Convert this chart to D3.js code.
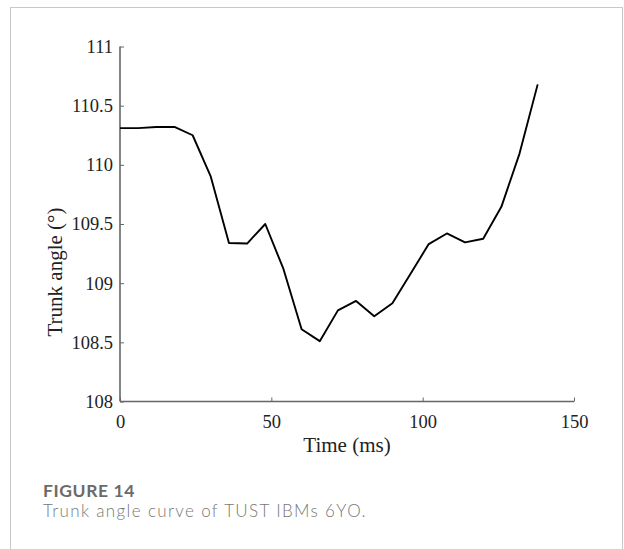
<!DOCTYPE html>
<html>
<head>
  <script src="https://cdn.jsdelivr.net/npm/d3@7"></script>
  <style>
    body { margin: 0; background: #fff; }
  </style>
</head>
<body>
  <div id="chart"></div>
  <script>
    // time (ms) and trunk angle (deg)
    const times = [0, 6, 12, 18, 24, 30, 36, 42, 48, 54, 60, 66, 72, 78, 84, 90, 96, 102, 108, 114, 120, 126, 132, 138];
    const angles = [110.31, 110.31, 110.32, 110.32, 110.25, 109.9, 109.34, 109.335, 109.5, 109.12, 108.61, 108.51, 108.77, 108.85, 108.72, 108.83, 109.08, 109.33, 109.42, 109.345, 109.375, 109.645, 110.095, 110.68];
    const xTicks = [0, 50, 100, 150];
    const yTicks = [108, 108.5, 109, 109.5, 110, 110.5, 111];
    const caption = "FIGURE 14";
    const subCaption = "Trunk angle curve of TUST IBMs 6YO.";

    const data = times.map((t, i) => ({ t: t, v: angles[i] }));

    const W = 624, H = 549;
    const serif = "Liberation Serif, 'Times New Roman', serif";
    const svg = d3.select("#chart").append("svg")
      .attr("width", W).attr("height", H);

    svg.append("rect")
      .attr("x", 10.5).attr("y", 7.5)
      .attr("width", 612).attr("height", 600)
      .attr("fill", "#fff").attr("stroke", "#c8c8c8");

    const x = d3.scaleLinear().domain([0, 150]).range([120, 574]);
    const y = d3.scaleLinear().domain([108, 111]).range([401.5, 46.5]);

    const axisColor = "#666";

    const gx = svg.append("g")
      .attr("transform", "translate(0,401.5)")
      .call(d3.axisBottom(x).tickValues(xTicks).tickSize(-4).tickPadding(13).tickFormat(d3.format("d")))
      .attr("font-family", serif).attr("font-size", 18.5);
    gx.select(".domain").attr("stroke", axisColor).attr("stroke-width", 1.6)
      .attr("d", `M${x(0)},0H${x(150)}`);
    gx.selectAll(".tick line").attr("stroke", axisColor);
    gx.selectAll(".tick text").attr("fill", "#222");

    const gy = svg.append("g")
      .attr("transform", "translate(120,0)")
      .call(d3.axisLeft(y).tickValues(yTicks).tickSize(-4).tickPadding(7).tickFormat(d => String(d)))
      .attr("font-family", serif).attr("font-size", 18.5);
    gy.select(".domain").attr("stroke", axisColor).attr("stroke-width", 1.6)
      .attr("d", `M0,${y(108)}V${y(111)}`);
    gy.selectAll(".tick line").attr("stroke", axisColor);
    gy.selectAll(".tick text").attr("fill", "#222");

    const line = d3.line().x(d => x(d.t)).y(d => y(d.v));
    svg.append("path")
      .datum(data)
      .attr("d", line)
      .attr("fill", "none")
      .attr("stroke", "#000")
      .attr("stroke-width", 1.9)
      .attr("stroke-linejoin", "round");

    svg.append("text")
      .attr("x", 347).attr("y", 452)
      .attr("text-anchor", "middle")
      .attr("font-family", serif)
      .attr("font-size", 21).attr("fill", "#222")
      .text("Time (ms)");

    svg.append("text")
      .attr("transform", "translate(62,272) rotate(-90)")
      .attr("text-anchor", "middle")
      .attr("font-family", serif)
      .attr("font-size", 21).attr("fill", "#222")
      .text("Trunk angle (°)");

    svg.append("text")
      .attr("x", 43).attr("y", 497)
      .attr("font-family", "Lato, sans-serif")
      .attr("font-size", 17.5).attr("font-weight", 700)
      .attr("letter-spacing", 0.6)
      .attr("fill", "#6b6b6b")
      .text(caption);

    svg.append("text")
      .attr("x", 43).attr("y", 517)
      .attr("font-family", "Lato, sans-serif")
      .attr("font-size", 17).attr("font-weight", 300)
      .attr("letter-spacing", 1.35)
      .attr("fill", "#777")
      .text(subCaption);
  </script>
</body>
</html>
